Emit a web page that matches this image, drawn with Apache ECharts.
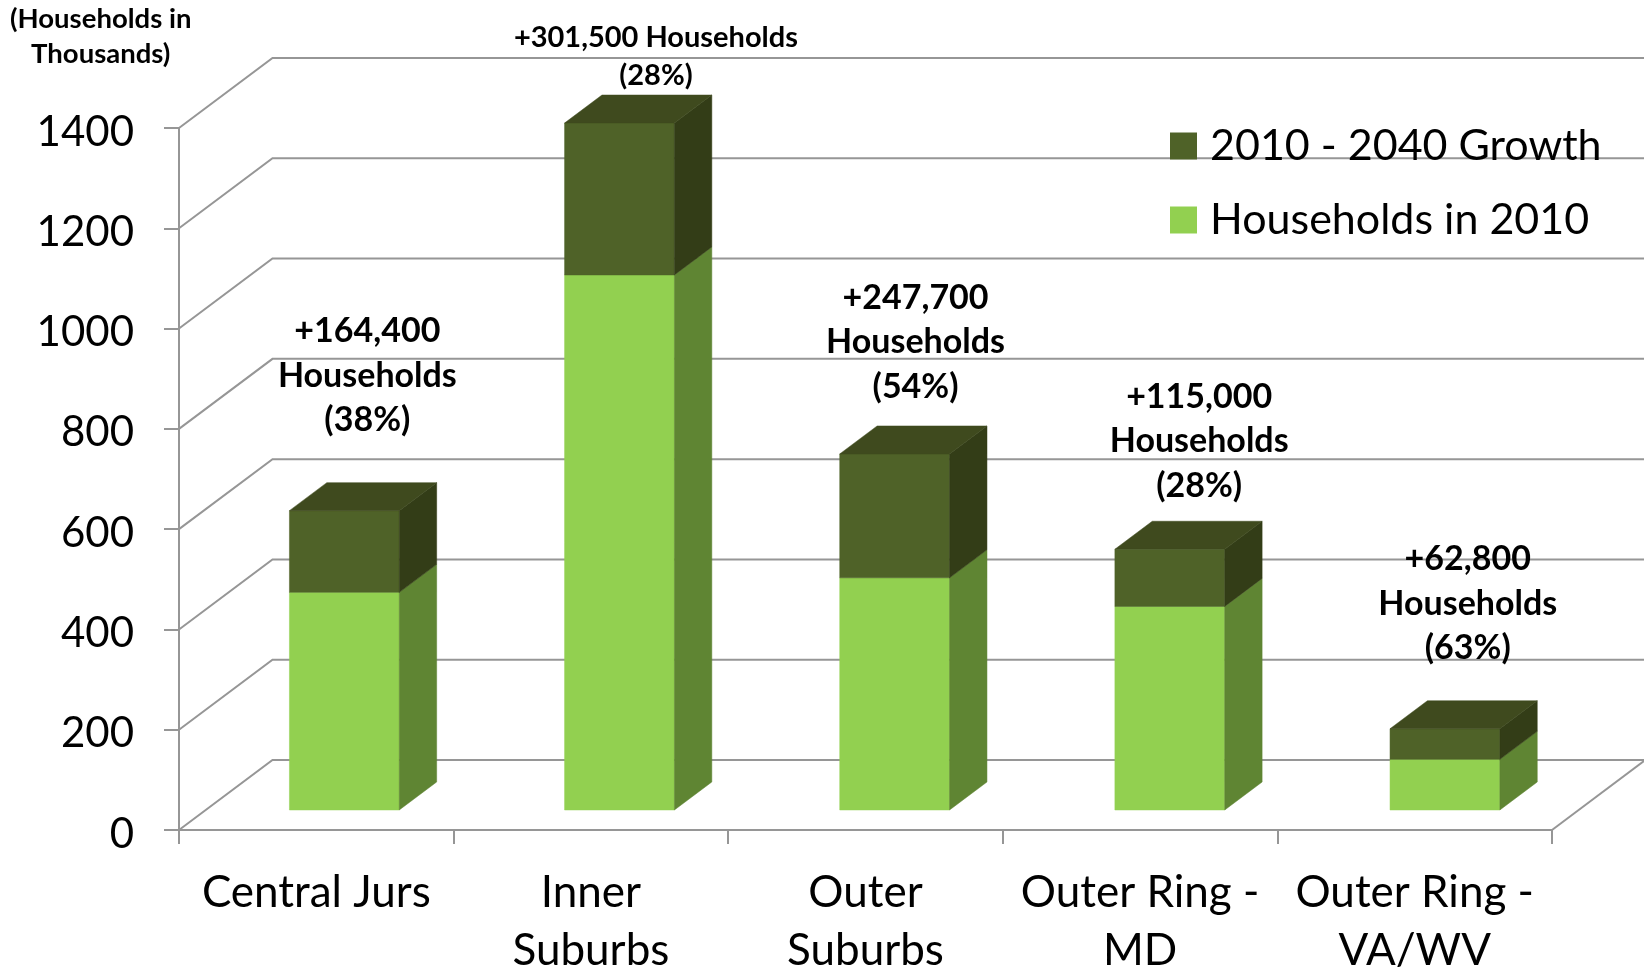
<!DOCTYPE html>
<html><head><meta charset="utf-8">
<style>html,body{margin:0;padding:0;background:#fff}#c{width:1644px;height:971px}</style>
<script src="https://cdn.jsdelivr.net/npm/echarts@6/dist/echarts.min.js"></script>
</head><body><div id="c"></div>
<script>
var categories = ['Central Jurs', 'Inner\nSuburbs', 'Outer\nSuburbs', 'Outer Ring -\nMD', 'Outer Ring -\nVA/WV'];
var households2010 = [434, 1067, 463, 406, 101];
var growth = [163, 303, 247, 114, 61];
var yTicks = [0, 200, 400, 600, 800, 1000, 1200, 1400];
var annotations = ['+164,400\nHouseholds\n(38%)', '+301,500 Households\n(28%)', '+247,700\nHouseholds\n(54%)', '+115,000\nHouseholds\n(28%)', '+62,800\nHouseholds\n(63%)'];
var annotationShift = [[23, 68], [37, 28], [22, 45], [31, 41], [25, 58]];
var annotationFont = [34, 29, 34, 34, 34];

var FONT = 'Lato, "Noto Sans", sans-serif';
var DEPTH_X = 93.5, DEPTH_Y = 70, LINE = '#969696';
var BAR_FRONT_X = 0.3, BAR_FRONT_Y = 0.286, BAR_DEPTH = 0.4, BAR_W = 0.4, BAR_DRIFT = 0.55;

function poly(points, fill) {
  return { type: 'polygon', shape: { points: points }, style: { fill: fill, stroke: fill, lineWidth: 0.5 } };
}
function barItem(front, side, top) {
  return function (params, api) {
    var i = api.value(0), p0 = api.coord([i, api.value(1)]), p1 = api.coord([i, api.value(2)]);
    var w = api.size([1, 0])[0] * BAR_W;
    var sx = DEPTH_X * BAR_FRONT_X + i * BAR_DRIFT, sy = DEPTH_Y * BAR_FRONT_Y;
    var dx = DEPTH_X * BAR_DEPTH, dy = DEPTH_Y * BAR_DEPTH;
    var l = p0[0] + sx - w / 2, r = l + w, b = p0[1] - sy, t = p1[1] - sy;
    var kids = [
      poly([[l, b], [r, b], [r, t], [l, t]], front),
      poly([[r, b], [r + dx, b - dy], [r + dx, t - dy], [r, t]], side)
    ];
    if (top) kids.push(poly([[l, t], [r, t], [r + dx, t - dy], [l + dx, t - dy]], top));
    return { type: 'group', children: kids };
  };
}
var baseData = categories.map(function (c, i) { return [i, 0, households2010[i]]; });
var growthData = categories.map(function (c, i) { return [i, households2010[i], households2010[i] + growth[i]]; });

var chart = echarts.init(document.getElementById('c'), null, { renderer: 'canvas' });
chart.setOption({
  animation: false,
  backgroundColor: '#fff',
  textStyle: { fontFamily: FONT },
  grid: { left: 179, right: 92, top: 128, bottom: 141, outerBoundsMode: 'none' },
  legend: {
    left: 1165, top: 117, orient: 'vertical', itemWidth: 27, itemHeight: 27, itemGap: 26,
    icon: 'rect', data: ['2010 - 2040 Growth', 'Households in 2010'],
    textStyle: { fontSize: 43, lineHeight: 48, color: '#000', fontFamily: FONT, padding: [0, 0, 0, 8] }
  },
  graphic: [{
    type: 'text', left: 10, top: 2, z: 20,
    style: { text: '(Households in\nThousands)', fontFamily: FONT, fontSize: 27.5, fontWeight: 'bold', lineHeight: 35, textAlign: 'center', fill: '#000' }
  }],
  xAxis: {
    type: 'category', data: categories, boundaryGap: true,
    axisLine: { lineStyle: { color: LINE, width: 2 } },
    axisTick: { show: true, alignWithLabel: false, length: 14, lineStyle: { color: LINE, width: 2 } },
    axisLabel: { color: '#000', fontSize: 44, lineHeight: 58, margin: 34, interval: 0, fontFamily: FONT }
  },
  yAxis: {
    type: 'value', min: 0, max: 1400, interval: 200,
    axisLine: { show: true, lineStyle: { color: LINE, width: 2 } },
    axisTick: { show: true, length: 15, lineStyle: { color: LINE, width: 2 } },
    axisLabel: { color: '#000', fontSize: 42, margin: 45, verticalAlign: 'top', lineHeight: 8, fontFamily: FONT, formatter: function (v) { return String(v); } },
    splitLine: { show: false }
  },
  series: [
    {
      type: 'custom', name: 'walls', silent: true, z: 1, clip: false, data: yTicks.map(function (v) { return [0, v]; }),
      encode: { x: 0, y: 1 },
      renderItem: function (params, api) {
        var y = api.coord([0, api.value(1)])[1], cs = params.coordSys;
        var kids = [{
          type: 'polyline',
          shape: { points: [[cs.x, y], [cs.x + DEPTH_X, y - DEPTH_Y], [1644, y - DEPTH_Y]] },
          style: { stroke: LINE, lineWidth: 2, fill: null }
        }];
        if (api.value(1) === 0) kids.push({
          type: 'line',
          shape: { x1: cs.x + cs.width, y1: y, x2: cs.x + cs.width + DEPTH_X, y2: y - DEPTH_Y },
          style: { stroke: LINE, lineWidth: 2 }
        });
        return { type: 'group', children: kids };
      }
    },
    {
      type: 'custom', name: 'Households in 2010', z: 3, clip: false, data: baseData, encode: { x: 0, y: 2 },
      itemStyle: { color: '#92D050' }, renderItem: barItem('#92D050', '#5F8533', null)
    },
    {
      type: 'custom', name: '2010 - 2040 Growth', z: 4, clip: false, data: growthData, encode: { x: 0, y: 2 },
      itemStyle: { color: '#4F6228' }, renderItem: barItem('#4F6228', '#333D17', '#3F4A1E')
    },
    {
      type: 'custom', name: 'annotations', silent: true, z: 6, clip: false, data: growthData, encode: { x: 0, y: 2 },
      renderItem: function (params, api) {
        var i = api.value(0), p = api.coord([i, api.value(2)]);
        var s = annotationShift[i], big = annotationFont[i];
        return {
          type: 'text',
          style: {
            x: p[0] + DEPTH_X * BAR_FRONT_X + s[0], y: p[1] - DEPTH_Y * BAR_FRONT_Y - s[1],
            text: annotations[i], fontFamily: FONT, fontWeight: 'bold', fontSize: big,
            lineHeight: big > 30 ? 44.5 : 38, textAlign: 'center', textVerticalAlign: 'bottom', fill: '#000'
          }
        };
      }
    }
  ]
});
</script></body></html>
